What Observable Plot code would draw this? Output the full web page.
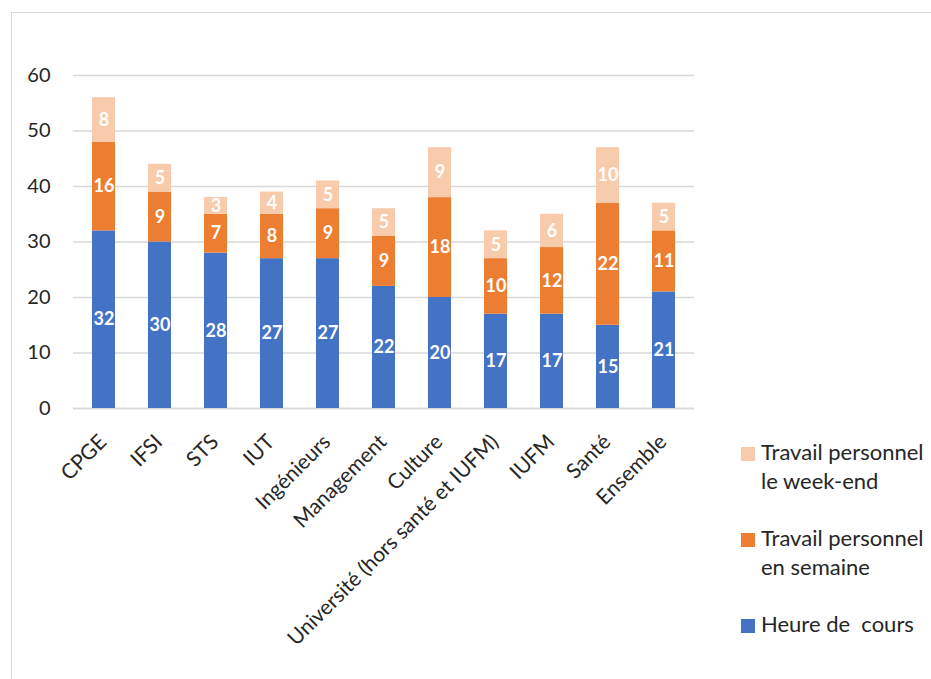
<!DOCTYPE html>
<html>
<head>
<meta charset="utf-8">
<script src="https://cdn.jsdelivr.net/npm/d3@7"></script>
<script src="https://cdn.jsdelivr.net/npm/@observablehq/plot@0.6"></script>
<style>
  html, body { margin: 0; padding: 0; background: #fff; overflow: hidden; }
  #wrap { position: relative; width: 931px; height: 679px; font-family: Lato, "Noto Sans", sans-serif; }
  #frame { position: absolute; left: 11px; top: 12px; width: 960px; height: 720px; border: 1.5px solid #d9d9d9; box-sizing: border-box; }
  #chart { position: absolute; left: 0; top: 0; }
  .sw { position: absolute; left: 741px; width: 14px; height: 14px; }
  .lt { position: absolute; left: 761px; font-size: 22px; line-height: 29px; color: #262626; white-space: pre; }
</style>
</head>
<body>
<div id="wrap">
  <div id="frame"></div>
  <div id="chart"></div>
  <div id="legend"></div>
</div>
<script>
const categories = ["CPGE", "IFSI", "STS", "IUT", "Ingénieurs", "Management", "Culture", "Université (hors santé et IUFM)", "IUFM", "Santé", "Ensemble"];
const series = ["Heure de  cours", "Travail personnel en semaine", "Travail personnel le week-end"];
const heureCours = [32, 30, 28, 27, 27, 22, 20, 17, 17, 15, 21];
const travailSemaine = [16, 9, 7, 8, 9, 9, 18, 10, 12, 22, 11];
const travailWeekend = [8, 5, 3, 4, 5, 5, 9, 5, 6, 10, 5];
const colors = ["#4472C4", "#ED7D31", "#F8CBAD"];
const yTicks = [0, 10, 20, 30, 40, 50, 60];
const legendLabels = [["Travail personnel", "le week-end"], ["Travail personnel", "en semaine"], ["Heure de  cours"]];

const seriesValues = [heureCours, travailSemaine, travailWeekend];
const table = [];
categories.forEach((c, i) => {
  series.forEach((s, j) => table.push({cat: c, series: s, value: seriesValues[j][i]}));
});

const chart = Plot.plot({
  width: 931,
  height: 679,
  marginLeft: 73,
  marginRight: 237,
  marginTop: 75,
  marginBottom: 271,
  style: {fontFamily: "Lato, 'Noto Sans', sans-serif", background: "transparent", color: "#262626"},
  x: {domain: categories, paddingInner: 0.59, paddingOuter: 0.295, label: null},
  y: {domain: [0, 60], label: null},
  color: {domain: series, range: colors},
  marks: [
    Plot.gridY(yTicks, {stroke: "#d9d9d9", strokeOpacity: 1, strokeWidth: 1.5}),
    Plot.axisY(yTicks, {tickSize: 0, tickPadding: 23, fontSize: 20, label: null}),
    Plot.axisX({tickSize: 0, tickPadding: 30, dx: -1, tickRotate: -45, fontSize: 21, label: null}),
    Plot.ruleY([0], {stroke: "#d9d9d9", strokeWidth: 1.5}),
    Plot.barY(table, Plot.stackY({x: "cat", y: "value", fill: "series", order: null})),
    Plot.text(table, Plot.stackY({x: "cat", y: "value", z: "series", order: null, text: "value", fill: "white", fontWeight: "bold", fontSize: 18}))
  ]
});
document.getElementById("chart").appendChild(chart);

// legend
const legend = document.getElementById("legend");
const swTops = [447, 533, 619];
const txtTops = [437, 523, 609];
const legendColors = [colors[2], colors[1], colors[0]];
legendLabels.forEach((lines, i) => {
  const sw = document.createElement("div");
  sw.className = "sw";
  sw.style.top = swTops[i] + "px";
  sw.style.background = legendColors[i];
  legend.appendChild(sw);
  const t = document.createElement("div");
  t.className = "lt";
  t.style.top = txtTops[i] + "px";
  t.textContent = lines.join("\n");
  legend.appendChild(t);
});
</script>
</body>
</html>
